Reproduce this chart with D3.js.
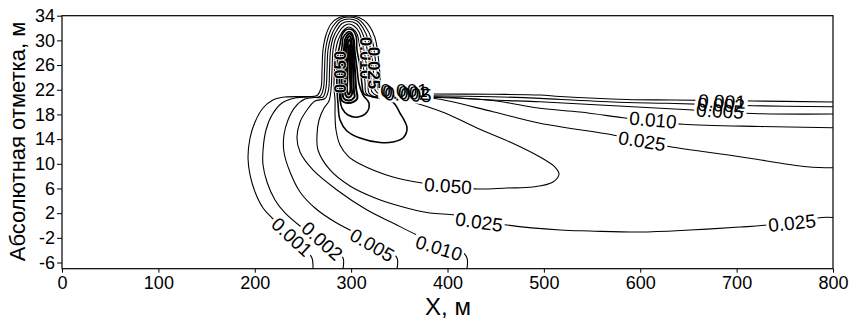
<!DOCTYPE html>
<html>
<head>
<meta charset="utf-8">
<script src="https://cdn.jsdelivr.net/npm/d3@7"></script>
<style>
body { margin: 0; background: #fff; }
svg { display: block; font-family: Arial, "Liberation Sans", sans-serif; }
</style>
</head>
<body>
<svg id="chart" width="858" height="319"></svg>
<script>
'use strict';
(function() {

	// contour lines: [X, m ; absolute elevation, m]
	var c001 = [[260.4,-7],[259.4,-5.27],[252.1,-3.81],[236.6,-1.70],[217.9,1.22],[208.6,2.84],[200.3,5.43],[195.1,8.19],[193.0,10.94],[195.1,14.18],[200.3,16.77],[208.6,19.04],[218.9,20.34],[231.4,20.82],[252.1,20.91],[264.6,21.07],
		[268.7,22.28],[269.8,25.20],[270.8,28.44],[273.9,30.87],[279.1,32.65],[287.4,33.71],[297.8,34],[308.2,33.71],[317.5,32.65],[324.8,30.39],[327.9,27.63],[330.0,24.39],[331.0,22.28],
		[336.2,21.47],[350.7,21.39],[381.8,21.31],[447.2,21.26],[496.0,21.15],[516.7,20.91],[586.2,20.42],[634.0,20.34],[717.0,20.18],[800,20.01]];

	var c002 = [[291.6,-7],[291.6,-5.27],[283.3,-3.97],[265.6,-2.03],[247.0,-0.08],[231.4,2.03],[221.0,4.13],[212.7,7.05],[208.6,9.80],[208.6,12.24],[211.7,15.48],[217.9,17.91],[228.3,19.85],[241.8,20.66],[257.3,20.82],[267.7,20.91],
		[271.3,22.28],[272.4,25.20],[273.4,28.44],[276.5,30.71],[281.2,32.33],[288.5,33.47],[297.8,33.79],[307.1,33.47],[314.4,32.33],[321.7,30.06],[324.8,27.31],[326.8,24.07],[327.9,22.12],
		[334.1,21.31],[350.7,21.15],[381.8,21.03],[447.2,20.87],[496.0,20.61],[537.5,20.26],[586.2,19.93],[627.7,19.80],[717.0,19.41],[800,19.25]];

	var c005 = [[347.6,-7],[347.6,-5.27],[335.1,-3.48],[309.2,-1.54],[283.3,0.57],[262.5,2.84],[247.0,5.43],[236.6,8.67],[230.3,11.91],[230.3,14.67],[234.5,17.10],[241.8,19.20],[252.1,20.50],[262.5,20.74],[270.8,20.82],
		[273.9,22.28],[275.0,25.20],[276.0,28.44],[279.1,30.55],[283.3,32.01],[289.5,33.14],[297.8,33.47],[306.1,33.14],[312.3,32.01],[318.5,29.74],[321.7,27.15],[323.7,23.90],[324.8,21.96],
		[331.0,21.15],[350.7,20.99],[389.1,20.87],[447.2,20.34],[496.0,20.06],[558.2,19.53],[654.7,18.72],[717.0,18.15],[800,18.07]];

	var c010 = [[420.2,-7],[420.2,-5.27],[413.0,-3.97],[392.2,-3.00],[368.4,-1.54],[343.4,0.41],[316.5,2.51],[285.3,5.75],[260.4,9.00],[247.0,11.91],[243.8,14.18],[247.0,16.77],[254.2,18.72],[262.5,20.18],[272.9,20.58],
		[276.5,21.96],[277.6,25.20],[278.6,28.44],[281.2,30.39],[285.3,31.68],[290.5,32.74],[297.8,33.06],[305.1,32.74],[310.2,31.68],[315.4,29.41],[318.5,26.82],[320.6,23.74],[321.7,21.64],
		[327.9,20.99],[350.7,20.82],[392.2,20.74],[447.2,20.26],[496.0,18.99],[537.5,18.39],[582.1,17.47],[610.1,16.93],[644.4,16.40],[724.3,16.04],[800,15.85]];

	var c025 = [[800,1.30],[788.6,1.30],[731.5,0.08],[703.5,-0.25],[651.6,-0.73],[599.7,-1.06],[547.9,-0.89],[516.7,-0.73],[461.7,0.08],[433.7,0.89],[407.8,1.70],[381.8,2.03],[353.8,3.00],[324.8,4.46],[298.8,6.40],[278.1,9.00],[265.6,12.24],[264.6,14.67],[266.7,17.10],[271.9,19.04],[277.0,20.18],
		[279.1,21.96],[280.2,25.20],[281.2,28.44],[283.3,30.06],[287.4,31.36],[292.6,32.33],[297.8,32.65],[303.0,32.33],[308.2,31.36],[312.3,29.09],[315.4,26.50],[317.5,23.58],[318.5,21.47],
		[324.8,20.82],[350.7,20.66],[384.9,20.61],[447.2,18.44],[496.0,16.56],[571.7,14.67],[599.7,13.69],[630.9,12.77],[703.5,11.15],[773.0,9.53],[800,9.37]];

	var c050 = [[309.2,9.97],[296.8,11.26],[288.5,13.05],[284.3,15.48],[283.3,17.91],[283.3,20.34],
		[282.2,22.28],[282.7,25.20],[283.8,28.12],[285.9,29.74],[289.5,31.03],[293.6,31.84],[297.8,32.17],[301.9,31.84],[306.1,31.03],[309.2,28.77],[312.3,26.17],[314.4,23.26],[315.4,21.47],
		[321.7,20.82],[340.3,20.58],[355.9,20.50],[364.2,20.01],[397.4,18.23],[430.6,15.80],[464.9,13.53],[496.0,11.10],[511.5,9.48],[515.7,8.35],[509.5,7.05],[488.7,6.24],[461.7,6.08],[431.6,5.92],[402.6,6.40],[373.5,6.89],[343.4,7.86]];

	var c100 = [[286.4,19.69],[285.3,22.28],[285.3,25.20],[286.4,27.79],[288.5,29.41],[290.5,30.87],[293.6,31.60],[297.8,31.84],[301.9,31.60],[305.1,30.71],[306.1,28.44],[309.2,25.85],[311.3,22.93],[313.4,21.31],
		[332.0,20.66],[343.4,20.01],[350.7,18.23],[358.0,15.80],[353.8,14.18],[343.4,13.53],[330.0,13.45],[309.2,14.18],[295.7,15.32],[288.5,17.10]];

	var c200 = [[288.5,20.34],[287.9,22.28],[287.9,25.20],[289.0,27.47],[290.5,28.93],[291.5,30.39],[294.7,31.12],[297.8,31.44],[300.9,31.12],[303.0,30.06],[304.0,28.12],[306.1,25.52],[308.2,22.93],[312.3,21.15],
		[318.5,19.85],[316.5,18.39],[307.1,17.58],[296.8,17.91],[290.5,19.04]];

	// unlabelled inner contours of the source
	var c500 = [[290.0,20.34],[290.0,22.77],[290.5,25.20],[291.0,27.15],[292.6,28.60],[293.6,30.06],[295.7,30.79],[298.3,31.12],[300.9,30.79],[302.4,29.74],[303.0,27.63],[304.0,25.20],[305.1,22.28],[306.1,20.50],[297.8,19.85]];
	var c1000 = [[292.1,20.66],[292.1,23.58],[292.6,25.85],[293.6,27.47],[294.7,29.41],[296.2,30.31],[298.3,30.71],[299.9,30.31],[300.9,29.09],[301.8,26.50],[302.3,23.90],[303.0,21.64],[303.5,20.82],[297.8,20.26]];
	var c2000 = [[294.2,21.15],[294.2,23.90],[294.7,25.85],[295.2,28.12],[296.8,29.74],[298.3,30.14],[299.6,29.58],[299.9,27.63],[300.1,24.88],[300.5,22.28],[300.9,21.31],[297.5,20.74]];
	var c5000 = [[296.0,21.64],[296.2,24.23],[296.8,27.63],[297.8,29.41],[298.6,27.63],[298.8,24.23],[299.0,21.64],[297.5,21.23]];

	var openLevels = [c001, c002, c005, c010, c025];
	var closedLevels = [c050, c100, c200, c500, c1000, c2000, c5000];

	var xTicks = [0, 100, 200, 300, 400, 500, 600, 700, 800];
	var yTicks = [34, 30, 26, 22, 18, 14, 10, 6, 2, -2, -6];

	// contour labels: text, position (X, elevation), angle
	var lineLabels = [
		{ text: '0.001', x: 238.6, y: -1.86, angle: 43 },
		{ text: '0.002', x: 269.8, y: -2.51, angle: 42 },
		{ text: '0.005', x: 321.7, y: -3.16, angle: 30 },
		{ text: '0.010', x: 391.2, y: -3.65, angle: 17 },
		{ text: '0.025', x: 432.7, y: 0.57, angle: 8 },
		{ text: '0.050', x: 400.5, y: 6.40, angle: 4 },
		{ text: '0.025', x: 757.5, y: 0.41, angle: -6 },
		{ text: '0.025', x: 601.8, y: 13.69, angle: 9 },
		{ text: '0.010', x: 613.2, y: 17.10, angle: 5 },
		{ text: '0.001', x: 684.8, y: 20.10, angle: 2 },
		{ text: '0.002', x: 683.8, y: 19.53, angle: 2 },
		{ text: '0.005', x: 682.7, y: 18.56, angle: 3 },
		{ text: '0.001', x: 354.9, y: 21.96, angle: 0 },
		{ text: '0.002', x: 356.9, y: 21.55, angle: 2 },
		{ text: '0.005', x: 359.0, y: 21.23, angle: 3 }
	];
	var plumeLabels = [
		{ text: '0.010', x: 315.4, y: 27.15, angle: 90 },
		{ text: '0.025', x: 323.7, y: 25.52, angle: 90 },
		{ text: '0.050', x: 288.5, y: 24.88, angle: -90 }
	];


	var margin = {top: 15.7, right: 25, bottom: 50.3, left: 62},
		width = 858 - margin.left - margin.right,
		height = 319 - margin.top - margin.bottom;

	var svg = d3.select('#chart');
	var g = svg.append('g')
		.attr('transform', 'translate(' + margin.left + ',' + margin.top + ')');

	var scaleX = d3.scaleLinear().domain([0, 800]).range([0, width]);
	var scaleY = d3.scaleLinear().domain([-7, 34]).range([height, 0]);

	g.append('clipPath').attr('id', 'plot-clip')
		.append('rect').attr('width', width).attr('height', height);

	var plot = g.append('g').attr('clip-path', 'url(#plot-clip)');

	var openLine = d3.line()
		.x(function(d) { return scaleX(d[0]); })
		.y(function(d) { return scaleY(d[1]); })
		.curve(d3.curveCatmullRom.alpha(0.5));
	var closedLine = d3.line()
		.x(function(d) { return scaleX(d[0]); })
		.y(function(d) { return scaleY(d[1]); })
		.curve(d3.curveCatmullRomClosed.alpha(0.5));

	plot.selectAll('path.open')
		.data(openLevels)
		.enter().append('path')
		.attr('class', 'open')
		.attr('d', openLine)
		.attr('stroke-width', 1.1);
	// inner lines of the source get packed so tight they print nearly solid
	plot.selectAll('path.closed')
		.data(closedLevels)
		.enter().append('path')
		.attr('class', 'closed')
		.attr('d', closedLine)
		.attr('stroke-width', function(d, i) { return i === 0 ? 1.1 : (i < 3 ? 1.6 : 2); });
	plot.selectAll('path')
		.attr('fill', 'none')
		.attr('stroke', '#000')
		.attr('stroke-linejoin', 'round');

	// labels cut the line under them
	var fs = 19;
	var bgLayer = plot.append('g');
	var textLayer = plot.append('g');
	lineLabels.forEach(function(l) {
		var tr = 'translate(' + scaleX(l.x) + ',' + scaleY(l.y) + ') rotate(' + l.angle + ')';
		var t = textLayer.append('text')
			.attr('transform', tr)
			.attr('text-anchor', 'middle')
			.attr('dy', '0.35em')
			.attr('font-size', fs)
			.text(l.text);
		var b = t.node().getBBox();
		bgLayer.append('rect')
			.attr('transform', tr)
			.attr('x', b.x - 2)
			.attr('y', -fs * 0.45)
			.attr('width', b.width + 4)
			.attr('height', fs * 0.9)
			.attr('fill', '#fff');
	});
	plumeLabels.forEach(function(l) {
		plot.append('text')
			.attr('transform', 'translate(' + scaleX(l.x) + ',' + scaleY(l.y) + ') rotate(' + l.angle + ')')
			.attr('text-anchor', 'middle')
			.attr('dy', '0.35em')
			.attr('font-size', 17)
			.attr('font-weight', 'bold')
			.attr('stroke', '#fff')
			.attr('stroke-width', 1.5)
			.attr('paint-order', 'stroke')
			.text(l.text);
	});

	// axes
	var yAxis = g.append('g')
		.call(d3.axisLeft(scaleY).tickValues(yTicks).tickSize(5).tickPadding(2)
			.tickFormat(function(d) { return String(d); }));
	var xAxis = g.append('g')
		.attr('transform', 'translate(0,' + height + ')')
		.call(d3.axisBottom(scaleX).tickValues(xTicks).tickSize(4).tickPadding(4));
	[yAxis, xAxis].forEach(function(a) {
		a.select('.domain').remove();
		a.attr('font-family', null).attr('font-size', 18);
		a.selectAll('line').attr('stroke', '#000');
		a.selectAll('text').attr('fill', '#000');
	});

	g.append('rect')
		.attr('width', width)
		.attr('height', height)
		.attr('fill', 'none')
		.attr('stroke', '#000')
		.attr('stroke-width', 1.2);

	svg.append('text')
		.attr('transform', 'translate(24.5,141.5) rotate(-90)')
		.attr('text-anchor', 'middle')
		.attr('font-size', 22)
		.text('Абсолютная отметка, м');

	svg.append('text')
		.attr('x', 448)
		.attr('y', 315)
		.attr('text-anchor', 'middle')
		.attr('font-size', 24)
		.text('X, м');

})();
</script>
</body>
</html>
